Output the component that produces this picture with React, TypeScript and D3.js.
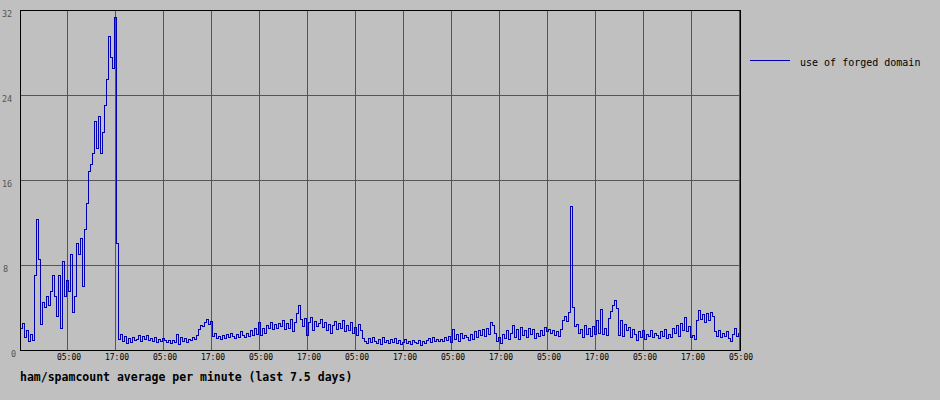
import { useEffect, useRef } from "react";
import * as d3 from "d3";

// half-hourly averages (7.5 days, 360 samples)
const partStart = [
  2.0, 2.5, 1.2, 1.8, 0.8, 1.5, 0.9, 7.0, 12.3, 8.5,
  2.4, 4.5, 4.0, 5.0, 4.2, 5.5, 7.0, 5.0, 3.2, 7.0,
  2.0, 8.3, 5.0, 6.5, 5.5, 9.0, 3.5, 5.0, 10.0, 9.0,
  10.5, 6.0, 11.3, 13.8, 16.8, 17.5, 18.5, 21.5, 19.0, 22.0,
  18.5, 20.5, 23.0, 25.5, 29.5, 27.5, 26.5, 31.3, 10.0, 1.0,
];
const partTwo = [
  1.5, 0.8, 1.3, 0.6, 1.1, 0.7, 1.2, 0.9, 1.0, 1.4,
  0.8, 1.3, 1.0, 1.4, 0.9, 1.1, 0.8, 1.2, 0.7, 1.0,
  0.8, 1.1, 0.9, 0.7, 0.9, 0.6, 0.9, 0.7, 1.5, 0.5,
  1.2, 0.8, 1.1, 0.7, 1.0, 0.9, 1.2, 1.0, 1.4, 1.9,
  2.3, 2.2, 2.6, 2.9, 2.4, 2.7, 1.3, 1.6, 1.1, 1.3,
  1.0, 1.4, 1.1, 1.5, 1.2, 1.6, 1.3, 1.1, 1.5, 1.2,
  1.7, 1.4, 1.2, 1.6, 1.3, 1.8, 1.4, 2.0, 1.5, 2.6,
  1.4, 2.0, 1.6, 2.3, 2.0, 2.6, 1.9, 2.4, 2.0, 2.5,
];
const partThree = [
  2.2, 2.8, 1.9, 2.5, 2.0, 2.9, 1.7, 2.6, 3.4, 4.2,
  2.9, 2.2, 3.0, 1.4, 2.6, 3.1, 1.8, 2.7, 2.2, 2.5,
  2.9, 2.1, 2.6, 1.8, 2.4, 1.6, 2.3, 2.7, 1.9, 2.5,
  2.0, 2.8, 1.7, 2.3, 1.8, 2.6, 1.6, 2.1, 1.4, 2.4,
  1.8, 1.1, 0.8, 0.6, 1.1, 0.7, 1.2, 0.8, 0.6, 1.0,
  0.5, 1.2, 0.7, 0.9, 0.6, 1.0, 0.7, 1.1, 0.6, 0.9,
  0.5, 0.7, 1.0, 0.6, 0.8, 0.5, 0.9, 0.7, 0.6, 0.9,
  0.4, 0.8, 0.6, 0.9, 1.1, 0.7, 1.2, 0.8, 1.0, 0.8,
];
const partFour = [
  1.0, 0.8, 1.2, 0.9, 1.3, 0.7, 1.9, 1.0, 1.5, 0.8,
  1.6, 1.1, 1.4, 1.2, 0.9, 1.5, 1.0, 1.7, 1.2, 1.8,
  1.4, 1.9, 1.3, 2.0, 1.5, 2.6, 2.3, 1.6, 0.8, 1.2,
  0.6, 1.5, 1.1, 1.8, 1.0, 1.6, 2.3, 1.2, 1.9, 1.0,
  2.1, 1.4, 1.8, 1.2, 2.0, 1.5, 1.9, 1.1, 1.6, 1.3,
  1.8, 1.4, 2.1, 1.7, 1.9, 1.6, 1.8, 1.4, 1.7, 1.3,
  1.9, 2.8, 3.2, 2.7, 3.5, 13.5, 4.0, 2.2, 2.4, 1.6,
  1.9, 1.2, 2.3, 1.5, 2.0, 1.3, 2.2, 1.5, 2.8, 1.6,
];
const partEnd = [
  3.8, 1.5, 2.0, 1.4, 3.0, 3.6, 4.2, 4.7, 3.9, 1.4,
  2.8, 1.3, 2.4, 1.8, 2.1, 1.2, 1.9, 1.5, 0.9, 1.7,
  1.2, 1.8, 1.0, 1.5, 1.3, 1.8, 1.2, 1.6, 1.4, 1.1,
  1.7, 1.3, 1.9, 1.1, 1.5, 1.2, 2.0, 1.6, 2.3, 1.3,
  2.5, 1.8, 3.1, 1.7, 2.2, 1.2, 1.4, 1.0, 2.8, 3.7,
  2.9, 3.3, 2.6, 3.4, 2.8, 3.5, 3.2, 1.7, 1.3, 1.8,
  1.2, 1.6, 1.3, 1.7, 1.1, 0.8, 1.5, 2.0, 1.3, 1.6,
];

const yTicks = [0, 8, 16, 24, 32];
const seriesLabel = "use of forged domain";
const title = "ham/spamcount average per minute (last 7.5 days)";

const START = new Date(2024, 0, 1, 17, 15);
const END = new Date(2024, 0, 9, 5, 15);
const STEP_MS = 30 * 60 * 1000;

export default function App() {
  const hostRef = useRef<SVGSVGElement | null>(null);

  useEffect(() => {
    if (!hostRef.current) return;
    const svg = d3.select(hostRef.current);
    svg.selectAll("*").remove();

    const W = 940;
    const H = 400;
    const left = 20, right = 740, top = 10, bottom = 350;
    const mono = "'DejaVu Sans Mono', 'Liberation Mono', monospace";

    svg.append("rect").attr("width", W).attr("height", H).attr("fill", "#c0c0c0");

    const values = [...partStart, ...partTwo, ...partThree, ...partFour, ...partEnd];
    const data = values.map((v, i) => ({ t: new Date(START.getTime() + i * STEP_MS), v }));

    const x = d3.scaleTime().domain([START, END]).range([left, right]);
    const y = d3.scaleLinear().domain([0, 32]).range([bottom, top]);

    const xTicks = d3.timeHour.range(START, END).filter((d) => d.getHours() === 5 || d.getHours() === 17);
    const fmt = d3.timeFormat("%H:%M");

    const grid = svg.append("g").attr("stroke", "#555").attr("stroke-width", 1).attr("shape-rendering", "crispEdges");
    grid
      .selectAll("line.v")
      .data(xTicks)
      .join("line")
      .attr("class", "v")
      .attr("x1", (d) => Math.round(x(d)) + 0.5)
      .attr("x2", (d) => Math.round(x(d)) + 0.5)
      .attr("y1", top)
      .attr("y2", bottom);
    grid
      .selectAll("line.h")
      .data(yTicks.filter((d) => d > 0 && d < 32))
      .join("line")
      .attr("class", "h")
      .attr("x1", left)
      .attr("x2", right)
      .attr("y1", (d) => Math.round(y(d)) + 0.5)
      .attr("y2", (d) => Math.round(y(d)) + 0.5);

    const line = d3
      .line<{ t: Date; v: number }>()
      .x((d) => x(d.t))
      .y((d) => y(d.v))
      .curve(d3.curveStepAfter);

    svg
      .append("path")
      .datum(data)
      .attr("d", line)
      .attr("fill", "none")
      .attr("stroke", "#0000b0")
      .attr("stroke-width", 1)
      .attr("shape-rendering", "crispEdges");

    // frame
    svg
      .append("rect")
      .attr("x", left + 0.5)
      .attr("y", top + 0.5)
      .attr("width", right - left)
      .attr("height", bottom - top)
      .attr("fill", "none")
      .attr("stroke", "#000")
      .attr("shape-rendering", "crispEdges");

    // y labels (the 0 sits further right, as in rrd output)
    svg
      .append("g")
      .selectAll("text")
      .data(yTicks)
      .join("text")
      .attr("x", (d) => (d === 0 ? 11 : d < 10 ? 3 : 2))
      .attr("y", (d) => Math.round(y(d)) + 7)
      .attr("font-family", mono)
      .attr("font-size", 8.5)
      .attr("fill", "#555")
      .text((d) => String(d));

    // x labels
    svg
      .append("g")
      .selectAll("text")
      .data(xTicks)
      .join("text")
      .attr("x", (d) => Math.round(x(d)) + 2)
      .attr("y", bottom + 10)
      .attr("text-anchor", "middle")
      .attr("font-family", mono)
      .attr("font-size", 8)
      .attr("fill", "#000")
      .text((d) => fmt(d));

    // legend
    svg
      .append("line")
      .attr("x1", 750)
      .attr("x2", 790)
      .attr("y1", 60.5)
      .attr("y2", 60.5)
      .attr("stroke", "#0000b0")
      .attr("shape-rendering", "crispEdges");
    svg
      .append("text")
      .attr("x", 800)
      .attr("y", 65.5)
      .attr("font-family", mono)
      .attr("font-size", 10)
      .attr("fill", "#000")
      .text(seriesLabel);

    svg
      .append("text")
      .attr("x", 20)
      .attr("y", 381)
      .attr("font-family", mono)
      .attr("font-size", 11.5)
      .attr("font-weight", "bold")
      .attr("fill", "#000")
      .text(title);
  }, []);

  return (
    <svg
      ref={hostRef}
      width={940}
      height={400}
      style={{ position: "absolute", left: 0, top: 0, display: "block" }}
    />
  );
}
